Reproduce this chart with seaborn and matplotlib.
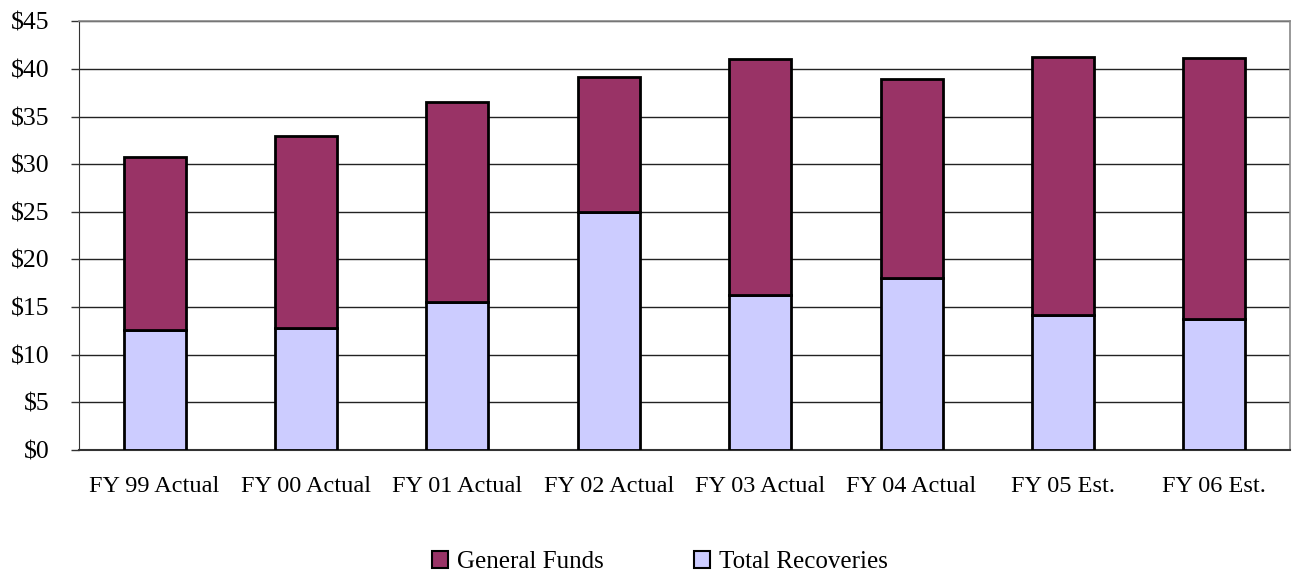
import matplotlib
matplotlib.use("Agg")
import matplotlib.pyplot as plt
import seaborn as sns
import pandas as pd
from matplotlib.patches import Patch
from matplotlib.ticker import FuncFormatter, MultipleLocator

# Datos (millones de $)
years = ["FY 99 Actual", "FY 00 Actual", "FY 01 Actual", "FY 02 Actual",
         "FY 03 Actual", "FY 04 Actual", "FY 05 Est.", "FY 06 Est."]
total_recoveries = [12.6, 12.8, 15.5, 25.0, 16.3, 18.1, 14.2, 13.8]
general_funds = [18.2, 20.2, 21.0, 14.2, 24.7, 20.8, 27.1, 27.3]

maroon = "#993366"
lavender = "#CCCCFF"

df = pd.DataFrame({"year": years, "recov": total_recoveries, "gf": general_funds})

sns.set_style("white")
plt.rcParams["font.family"] = ["Liberation Serif", "DejaVu Serif"]
plt.rcParams["text.color"] = "black"
plt.rcParams["xtick.color"] = "black"
plt.rcParams["ytick.color"] = "black"

fig, ax = plt.subplots(figsize=(12.94, 5.75), dpi=100)
fig.subplots_adjust(left=0.061, right=0.9969, top=0.963, bottom=0.2174)

# Barras apiladas
sns.barplot(data=df, x="year", y="recov", color=lavender, width=0.41,
            edgecolor="black", linewidth=2, saturation=1, ax=ax, zorder=3)
sns.barplot(data=df, x="year", y="gf", bottom=df["recov"], color=maroon, width=0.41,
            edgecolor="black", linewidth=2, saturation=1, ax=ax, zorder=3)

ax.set_ylim(0, 45)
ax.set_xlim(-0.5, len(years) - 0.5)
ax.yaxis.set_major_locator(MultipleLocator(5))
ax.yaxis.set_major_formatter(FuncFormatter(lambda v, p: f"${v:.0f}"))
ax.grid(axis="y", color="#222222", linewidth=1, zorder=0)
ax.set_axisbelow(True)

ax.set_xlabel("")
ax.set_ylabel("")

# Marcas entre categorias
ax.set_xticks([i - 0.5 for i in range(len(years) + 1)], minor=True)
ax.tick_params(axis="x", which="major", length=0, pad=19, labelsize=17.5)
ax.tick_params(axis="x", which="minor", length=5.5, width=1, color="#333333")
ax.tick_params(axis="y", which="major", length=6, width=1, color="#333333",
               labelsize=18.5, pad=15, left=True)

for side in ["top", "right"]:
    ax.spines[side].set_color("#888888")
    ax.spines[side].set_linewidth(1.2)
ax.spines["left"].set_color("#333333")
ax.spines["bottom"].set_color("#333333")
ax.spines["bottom"].set_linewidth(1.5)

handles = [Patch(facecolor=maroon, edgecolor="black", linewidth=1.5, label="General Funds"),
           Patch(facecolor=lavender, edgecolor="black", linewidth=1.5, label="Total Recoveries")]
fig.legend(handles=handles, loc="center", bbox_to_anchor=(0.51, 0.022), ncol=2,
           frameon=False, fontsize=18, handlelength=0.65, handleheight=0.65,
           handletextpad=0.35, columnspacing=3.6)

plt.savefig("out.png", dpi=100)
